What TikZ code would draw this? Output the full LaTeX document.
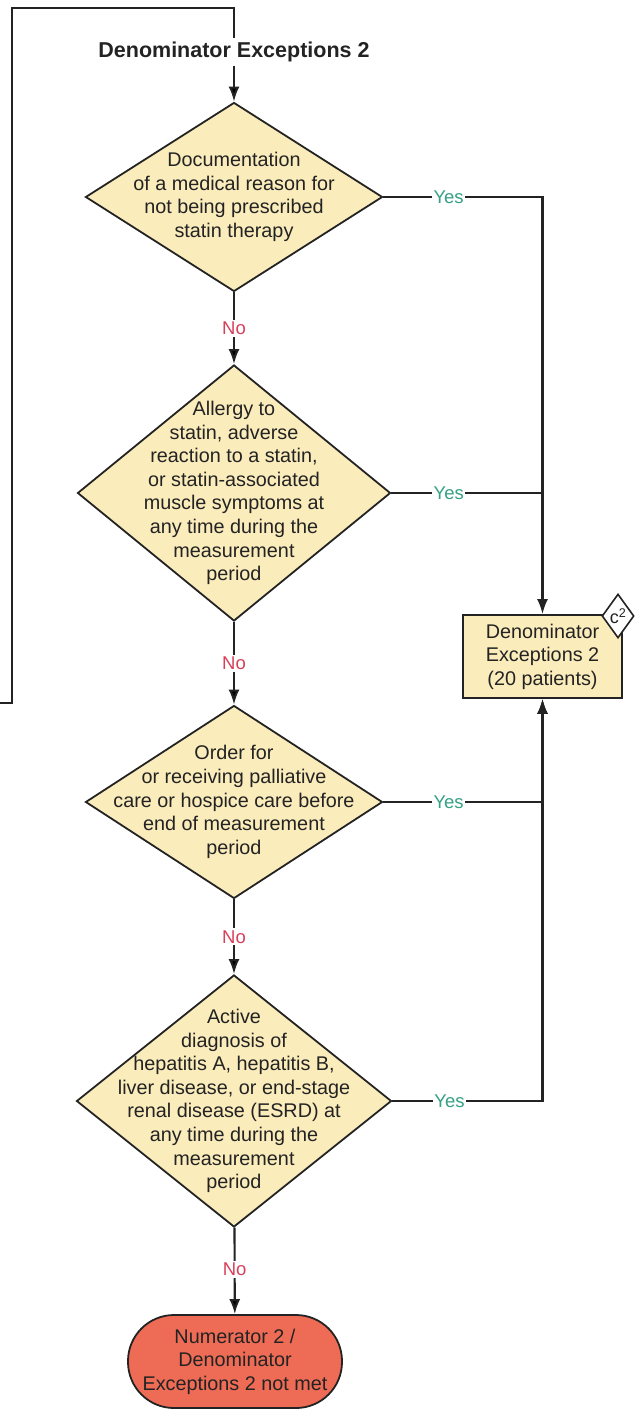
\documentclass[tikz,border=0pt]{standalone}
\usepackage{fontspec}
\setmainfont{Liberation Sans}
\usetikzlibrary{shapes.geometric,arrows.meta}

\definecolor{decfill}{HTML}{FBECBC}
\definecolor{stopfill}{HTML}{EE6C55}
\definecolor{yesgreen}{HTML}{35A084}
\definecolor{nored}{HTML}{D8405A}
\definecolor{ink}{HTML}{232323}

\begin{document}
\begin{tikzpicture}[x=1pt,y=-1pt,
    conn/.style={draw=ink,line width=2.1pt},
    arr/.style={conn,-{Latex[length=15pt,width=11pt]}},
    dec/.style={diamond,draw=ink,line width=1.8pt,fill=decfill,inner sep=0pt},
    dtext/.style={align=center,text=ink,font=\fontsize{19.8}{23.6}\selectfont},
    yes/.style={fill=white,inner sep=1.5pt,text=yesgreen,font=\fontsize{18.5}{20}\selectfont},
    no/.style={fill=white,inner sep=2pt,text=nored,font=\fontsize{18.5}{20}\selectfont}]
    \useasboundingbox (0,0) rectangle (638,1410);

    \node[font=\bfseries\fontsize{21.5}{24}\selectfont,text=ink] (title) at (234,52) {Denominator Exceptions 2};

    \node[dec,minimum width=297,minimum height=189,
          label={[dtext]center:{Documentation\\of a medical reason for\\not being prescribed\\statin therapy}}] (d1) at (234,197) {};
    \node[dec,minimum width=313,minimum height=256,
          label={[dtext]center:{Allergy to\\statin, adverse\\reaction to a statin,\\or statin-associated\\muscle symptoms at\\any time during the\\measurement\\period}}] (d2) at (234,493) {};
    \node[dec,minimum width=297,minimum height=193,
          label={[dtext]center:{Order for\\or receiving palliative\\care or hospice care before\\end of measurement\\period}}] (d3) at (234,802) {};
    \node[dec,minimum width=315,minimum height=252,
          label={[dtext]center:{Active\\diagnosis of\\hepatitis A, hepatitis B,\\liver disease, or end-stage\\renal disease (ESRD) at\\any time during the\\measurement\\period}}] (d4) at (234,1101) {};

    \node[draw=ink,line width=1.8pt,fill=decfill,minimum width=159,minimum height=83,inner sep=0pt,dtext] (exc) at (542.5,656.5) {Denominator\\Exceptions 2\\(20 patients)};
    \node[draw=ink,line width=1.8pt,fill=stopfill,rounded corners=46pt,minimum width=214,minimum height=93,inner sep=0pt,dtext] (stop) at (235,1361.5) {Numerator 2 /\\Denominator\\Exceptions 2 not met};

    % incoming from the previous page
    \coordinate (entry) at (0,703);
    \draw[conn] (entry) -- (12,703) -- (12,8) -| (title.north);
    \path[arr] (title) edge (d1);

    % No branch, straight down
    \path[arr] (d1) edge node[no] {No} (d2);
    \path[arr] (d2) edge node[no] {No} (d3);
    \path[arr] (d3) edge node[no] {No} (d4);
    \path[arr] (d4) edge node[no,pos=.48] {No} (stop);

    % Yes branch, to the right
    \draw[arr] (d1.east) -- node[yes,pos=.41] {Yes} (d1.east -| exc.north) -- (exc.north);
    \draw[conn] (d2.east) -- node[yes,pos=.38] {Yes} (d2.east -| exc.north);
    \draw[arr] (d3.east) -- node[yes,pos=.41] {Yes} (d3.east -| exc.south) -- (exc.south);
    \draw[arr] (d4.east) -- node[yes,pos=.38] {Yes} (d4.east -| exc.south) -- (exc.south);

    \node[diamond,draw=ink,line width=1.6pt,fill=white,minimum width=32,minimum height=44,inner sep=0pt,text=ink,font=\fontsize{18}{18}\selectfont] (csq) at (618,616) {c\textsuperscript{2}};
\end{tikzpicture}
\end{document}
